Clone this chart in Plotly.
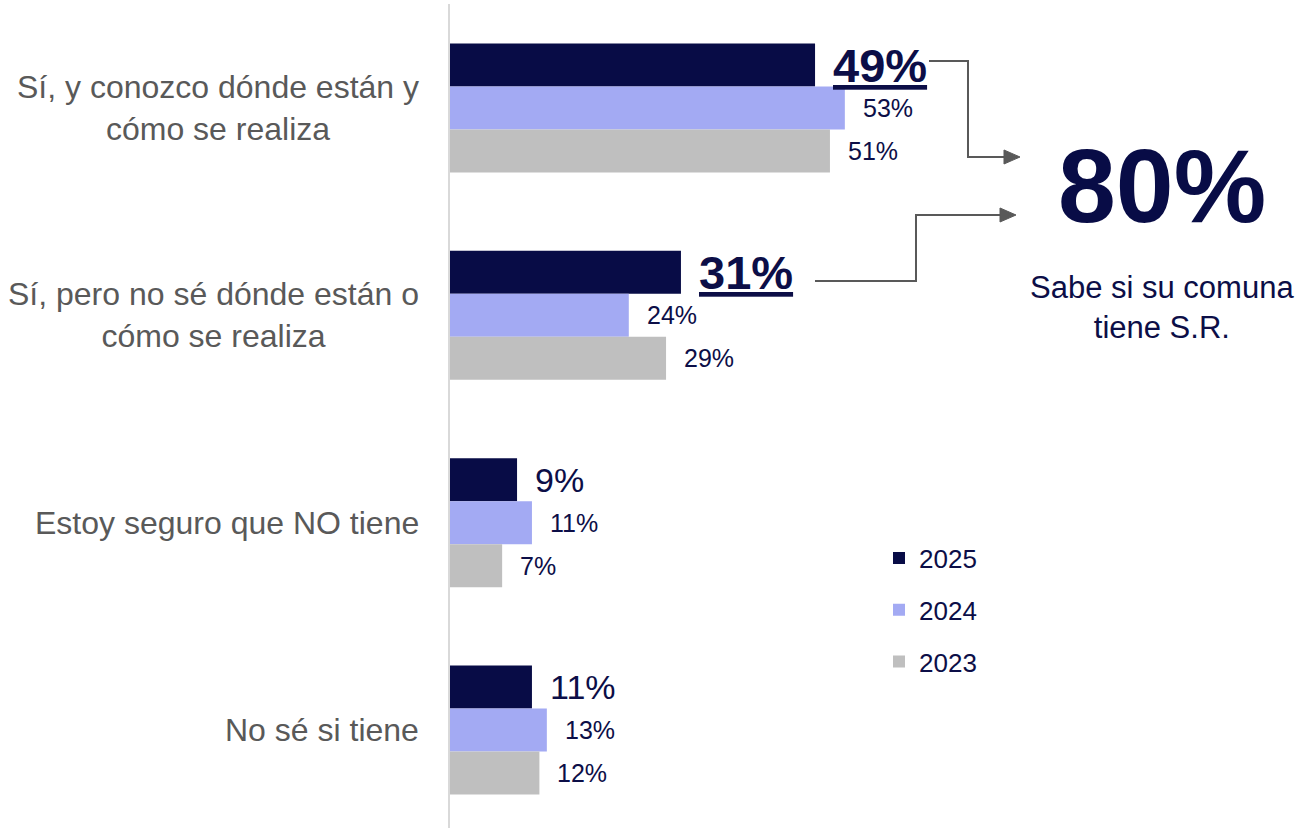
import plotly.graph_objects as go

# ---------------- data ----------------
categories = [
    "Sí, y conozco dónde están y<br>cómo se realiza",
    "Sí, pero no sé dónde están o<br>cómo se realiza",
    "Estoy seguro que NO tiene",
    "No sé si tiene",
]
years = ["2025", "2024", "2023"]
values_2025 = [49, 31, 9, 11]
values_2024 = [53, 24, 11, 13]
values_2023 = [51, 29, 7, 12]
total_value = "80%"
total_caption = "Sabe si su comuna<br>tiene S.R."

# ---------------- style ----------------
W, H = 1299, 828
ML, MR, MT, MB = 450, 104, 4, 0
PW, PH = W - ML - MR, H - MT - MB
colors = ["#080C46", "#A3AAF3", "#BFBFBF"]
label_color = "#0C0E47"
cat_color = "#595959"
FONT = "Liberation Sans, Arial, sans-serif"
BARGAP = 0.378

series = [values_2025, values_2024, values_2023]

fig = go.Figure()
for name, vals, col in zip(years, series, colors):
    fig.add_trace(go.Bar(
        y=categories, x=vals, orientation="h", name=name,
        marker=dict(color=col, line=dict(width=0)),
        legendgroup=name, hoverinfo="skip",
    ))


def px2paper(px, py):
    return (px - ML) / PW, 1 - (py - MT) / PH


annotations = []
# category labels (centered multi-line, right-aligned to axis)
for i, c in enumerate(categories):
    annotations.append(dict(
        x=0, xref="paper", y=i, yref="y", text=c, showarrow=False,
        xanchor="right", yanchor="middle", align="center", xshift=-29,
        font=dict(family=FONT, size=32, color=cat_color),
    ))

# value labels
w = (1 - BARGAP) / len(series)
for k, vals in enumerate(series):
    for i, v in enumerate(vals):
        if k == 0 and i < 2:
            font = dict(family=FONT, size=47, color=label_color, weight="bold",
                        lineposition="under")
            txt = f"<b>{v}%</b>"
        elif k == 0:
            font = dict(family=FONT, size=34, color=label_color)
            txt = f"{v}%"
        else:
            font = dict(family=FONT, size=25, color=label_color)
            txt = f"{v}%"
        annotations.append(dict(
            x=v, xref="x", y=i + (k - 1) * w, yref="y", text=txt,
            showarrow=False, xanchor="left", yanchor="middle", xshift=16,
            font=font,
        ))

# big total
x80, y80 = px2paper(1162, 186)
annotations.append(dict(
    x=x80, y=y80, xref="paper", yref="paper", text=f"<b>{total_value}</b>",
    showarrow=False, xanchor="center", yanchor="middle",
    font=dict(family=FONT, size=104, color="#080C46"),
))
xc, yc = px2paper(1162, 307)
annotations.append(dict(
    x=xc, y=yc, xref="paper", yref="paper", text=total_caption,
    showarrow=False, xanchor="center", yanchor="middle", align="center",
    font=dict(family=FONT, size=31, color=label_color),
))

# connectors
def path(points, close=False):
    pts = [px2paper(*p) for p in points]
    s = "M " + " L ".join(f"{a:.5f},{b:.5f}" for a, b in pts)
    return s + (" Z" if close else "")

shapes = []
line_col = "#595959"
for pts, tri in [
    ([(929, 61), (968, 61), (968, 157), (1006, 157)],
     [(1020, 157), (1004, 150), (1004, 164)]),
    ([(815, 281), (916, 281), (916, 215), (1002, 215)],
     [(1016, 215), (1000, 208), (1000, 222)]),
]:
    shapes.append(dict(type="path", xref="paper", yref="paper", path=path(pts),
                       line=dict(color=line_col, width=2)))
    shapes.append(dict(type="path", xref="paper", yref="paper", path=path(tri, True),
                       line=dict(color=line_col, width=1), fillcolor=line_col))

lx, ly = px2paper(879, 610)
fig.update_layout(
    width=W, height=H,
    margin=dict(l=ML, r=MR, t=MT, b=MB, autoexpand=False),
    paper_bgcolor="white", plot_bgcolor="white",
    barmode="group", bargap=BARGAP, bargroupgap=0,
    font=dict(family=FONT, color=label_color),
    showlegend=True,
    legend=dict(
        x=lx, y=ly, xanchor="left", yanchor="middle",
        traceorder="grouped", tracegroupgap=15,
        font=dict(family=FONT, size=26, color=label_color),
        bgcolor="rgba(0,0,0,0)", borderwidth=0,
    ),
    xaxis=dict(range=[0, 100], visible=False, fixedrange=True),
    yaxis=dict(
        range=[3.4727, -0.5016], showticklabels=False, showgrid=False,
        zeroline=False, showline=True, linecolor="#D9D9D9", linewidth=2,
        ticks="", fixedrange=True,
    ),
    annotations=annotations,
    shapes=shapes,
)

fig.write_html(
    "out.html",
    config={"displayModeBar": False},
    post_script="document.body.style.margin='0';document.body.style.overflow='hidden';",
)
